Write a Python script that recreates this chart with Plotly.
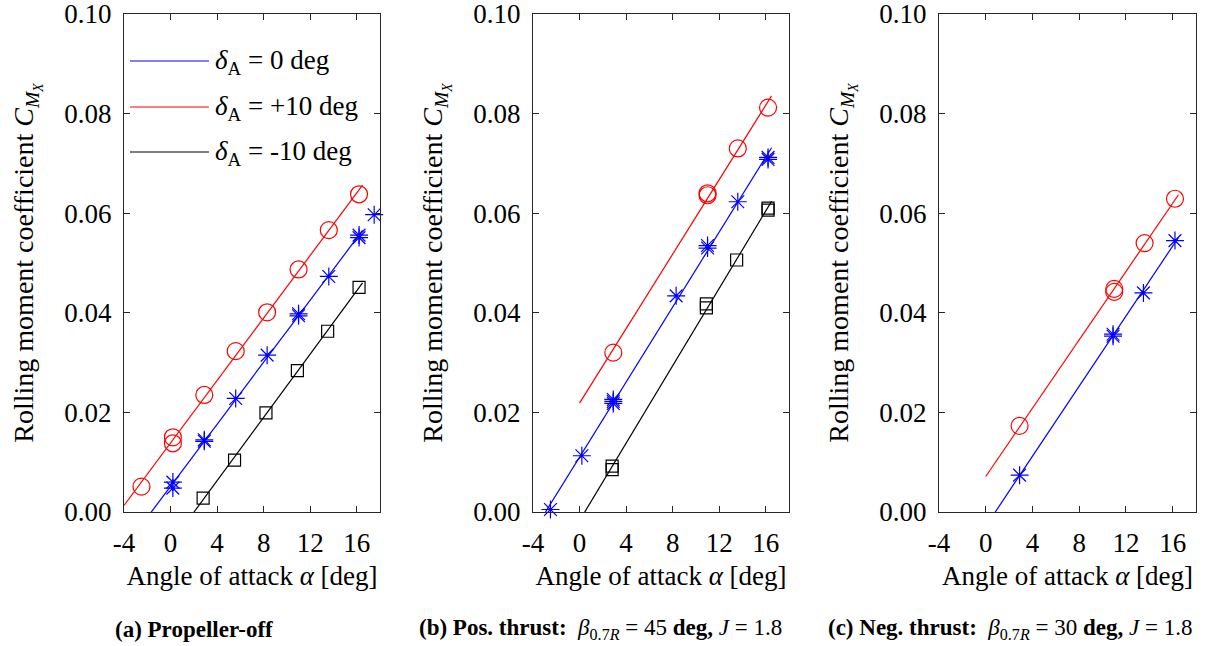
import numpy as np
import plotly.graph_objects as go

# ---------------- data ----------------
# Panel (a) Propeller-off
a_red_x = [-2.5, 0.2, 0.2, 2.9, 5.6, 8.3, 11.0, 13.6, 16.2]
a_red_y = [0.0051, 0.0150, 0.0138, 0.0235, 0.0323, 0.0401, 0.0487, 0.0566, 0.0638]
a_blue_x = [0.2, 0.2, 2.9, 2.9, 5.6, 8.3, 11.0, 11.0, 13.6, 16.2, 16.2, 17.5]
a_blue_y = [0.0048, 0.0060, 0.0142, 0.0145, 0.0228, 0.0315, 0.0394, 0.0398, 0.0473, 0.0556, 0.0551, 0.0597]
a_black_x = [2.8, 5.5, 8.2, 10.9, 13.5, 16.2]
a_black_y = [0.0028, 0.0104, 0.0199, 0.0284, 0.0363, 0.0451]

# Panel (b) Positive thrust
b_red_x = [2.9, 11.0, 11.0, 13.6, 16.2]
b_red_y = [0.0320, 0.0636, 0.0640, 0.0730, 0.0812]
b_blue_x = [-2.5, 0.2, 2.9, 2.9, 2.9, 8.3, 11.0, 11.0, 13.6, 16.2, 16.2]
b_blue_y = [0.0005, 0.0113, 0.0218, 0.0222, 0.0226, 0.0434, 0.0530, 0.0535, 0.0623, 0.0708, 0.0712]
b_black_x = [2.8, 2.8, 10.9, 10.9, 13.5, 16.2, 16.2]
b_black_y = [0.0085, 0.0092, 0.0410, 0.0418, 0.0506, 0.0606, 0.0610]

# Panel (c) Negative thrust
c_red_x = [2.9, 11.0, 11.0, 13.6, 16.2]
c_red_y = [0.0173, 0.0442, 0.0448, 0.0540, 0.0629]
c_blue_x = [2.9, 10.9, 10.9, 13.5, 16.2]
c_blue_y = [0.0074, 0.0353, 0.0357, 0.0440, 0.0545]

# alpha span of each linear fit line
a_fit_span = {"red": (-4, 16.5), "blue": (-4, 16.5), "black": (-4, 16.5)}
b_fit_span = {"red": (0, 16.5), "blue": (-4, 16.5), "black": (-4, 16.5)}
c_fit_span = {"red": (0, 16.5), "blue": (0, 16.5)}

x_ticks = [-4, 0, 4, 8, 12, 16]
y_ticks = [0.00, 0.02, 0.04, 0.06, 0.08, 0.10]

legend_labels = ["<i>δ</i><sub>A</sub> = 0 deg", "<i>δ</i><sub>A</sub> = +10 deg", "<i>δ</i><sub>A</sub> = -10 deg"]
captions = [
    "<b>(a) Propeller-off</b>",
    "<b>(b) Pos. thrust:</b>  <i>β</i><sub>0.7<i>R</i></sub> = 45 <b>deg,</b> <i>J</i> = 1.8",
    "<b>(c) Neg. thrust:</b>  <i>β</i><sub>0.7<i>R</i></sub> = 30 <b>deg,</b> <i>J</i> = 1.8",
]

# ---------------- styling ----------------
FONT = "Liberation Serif"
FS = 27
W, H = 1219, 646
COL = {"red": "#ff0000", "blue": "#0000ff", "black": "#000000"}
SYM = {"red": "circle-open", "blue": "asterisk-open", "black": "square-open"}
SIZE = {"red": 17, "blue": 15, "black": 12}

domains = [(124 / W, 380 / W), (533 / W, 789 / W), (939 / W, 1196 / W)]
ydom = (1 - 512 / H, 1 - 14 / H)

panels = [
    {"red": (a_red_x, a_red_y), "blue": (a_blue_x, a_blue_y), "black": (a_black_x, a_black_y), "span": a_fit_span},
    {"red": (b_red_x, b_red_y), "blue": (b_blue_x, b_blue_y), "black": (b_black_x, b_black_y), "span": b_fit_span},
    {"red": (c_red_x, c_red_y), "blue": (c_blue_x, c_blue_y), "span": c_fit_span},
]

fig = go.Figure()
for i, p in enumerate(panels):
    ax = "" if i == 0 else str(i + 1)
    for key in ["red", "blue", "black"]:
        if key not in p:
            continue
        xs, ys = p[key]
        k, b = np.polyfit(xs, ys, 1)
        lo, hi = p["span"][key]
        fx = np.array([lo, hi])
        fy = k * fx + b
        fig.add_trace(go.Scatter(x=fx, y=fy, mode="lines", line=dict(color=COL[key], width=1.2),
                                 xaxis="x" + ax, yaxis="y" + ax, showlegend=False, hoverinfo="skip"))
        fig.add_trace(go.Scatter(x=xs, y=ys, mode="markers",
                                 marker=dict(symbol=SYM[key], size=SIZE[key], color=COL[key],
                                             line=dict(color=COL[key], width=1.2)),
                                 xaxis="x" + ax, yaxis="y" + ax, showlegend=False, cliponaxis=False))

axis_common = dict(showgrid=False, zeroline=False, showline=True, linecolor="#262626", linewidth=1.3,
                   mirror="ticks", ticks="inside", ticklen=6, tickwidth=1.1, tickcolor="#262626",
                   automargin=False, ticklabelstandoff=6, ticklabeloverflow="allow",
                   tickfont=dict(family=FONT, size=FS, color="black"))
layout = dict(width=W, height=H, margin=dict(l=0, r=0, t=0, b=0, autoexpand=False), plot_bgcolor="white",
              paper_bgcolor="white", showlegend=False, font=dict(family=FONT, color="black", size=FS))
for i in range(3):
    ax = "" if i == 0 else str(i + 1)
    layout["xaxis" + ax] = dict(axis_common, domain=list(domains[i]), range=[-4, 18], tickvals=x_ticks,
                                ticktext=[str(t) for t in x_ticks], anchor="y" + ax,
                                title=dict(text="Angle of attack <i>α</i> [deg]", font=dict(family=FONT, size=FS),
                                           standoff=9))
    layout["yaxis" + ax] = dict(axis_common, domain=list(ydom), range=[0, 0.1], tickvals=y_ticks,
                                tickformat=".2f", anchor="x" + ax,
                                title=dict(text="Rolling moment coefficient <i>C</i><sub><i>M</i><sub><i>X</i></sub></sub>",
                                           font=dict(family=FONT, size=28), standoff=22))
fig.update_layout(**layout)

# manual legend in panel (a)
leg_cols = ["blue", "red", "black"]
leg_y = [61, 107, 152]
shapes = []
annos = []
for lab, c, yy in zip(legend_labels, leg_cols, leg_y):
    shapes.append(dict(type="line", xref="paper", yref="paper", x0=130 / W, x1=209 / W,
                       y0=1 - yy / H, y1=1 - yy / H, line=dict(color=COL[c], width=1.2)))
    annos.append(dict(xref="paper", yref="paper", x=213 / W, y=1 - (yy + 1) / H, xanchor="left", yanchor="middle",
                      text=lab, showarrow=False, font=dict(family=FONT, size=FS, color="black")))

cap_x = [194, 600, 1010]
for txt, cx in zip(captions, cap_x):
    annos.append(dict(xref="paper", yref="paper", x=cx / W, y=1 - 629 / H, xanchor="center", yanchor="middle",
                      text=txt, showarrow=False, font=dict(family=FONT, size=23, color="black")))
fig.update_layout(shapes=shapes, annotations=annos)

fig.write_html("out.html")
